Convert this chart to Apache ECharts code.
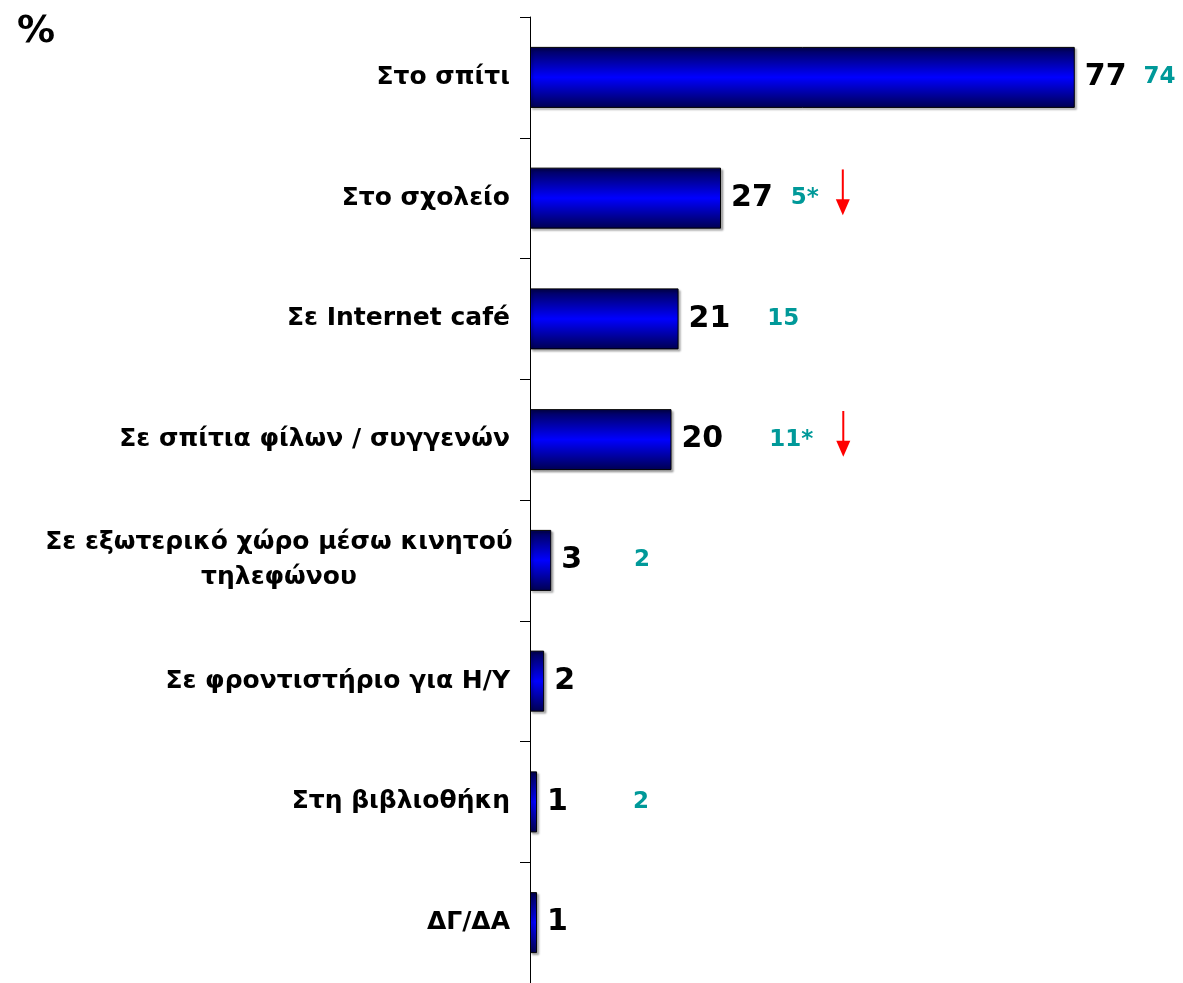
<!DOCTYPE html>
<html>
<head>
<meta charset="utf-8">
<script src="https://cdn.jsdelivr.net/npm/echarts@6/dist/echarts.min.js"></script>
<style>
  html, body { margin: 0; padding: 0; background: #fff; }
  #chart { width: 1183px; height: 983px; }
</style>
</head>
<body>
<div id="chart"></div>
<script>
  // data
  const categories = ['Στο σπίτι', 'Στο σχολείο', 'Σε Internet café', 'Σε σπίτια φίλων / συγγενών',
    'Σε εξωτερικό χώρο μέσω κινητού\nτηλεφώνου', 'Σε φροντιστήριο για Η/Υ', 'Στη βιβλιοθήκη', 'ΔΓ/ΔΑ']
  const values = [77, 27, 21, 20, 3, 2, 1, 1]
  const previous = ['74', '5*', '15', '11*', '2', '', '2', '']
  const decreased = [false, true, false, true, false, false, false, false]

  // spacing in px: current -> previous value, previous value -> arrow
  const prevGap = [17, 18, 37, 46, 52, 0, 65, 0]
  const arrowGap = [0, 16, 0, 22, 0, 0, 0, 0]

  // arrow in the top 46px, transparent below so it sits a bit higher than the numbers
  const arrowSvg = 'data:image/svg+xml;charset=utf-8,' + encodeURIComponent(
    '<svg xmlns="http://www.w3.org/2000/svg" width="16" height="58">' +
    '<line x1="8" y1="0" x2="8" y2="32" stroke="red" stroke-width="2"/>' +
    '<polygon points="1,30 15,30 8,46" fill="red"/></svg>')

  const rich = {
    v: { fontFamily: 'DejaVu Sans', fontWeight: 'bold', fontSize: 30, color: '#000' },
    p: { fontFamily: 'DejaVu Sans', fontWeight: 'bold', fontSize: 23, color: '#009999' },
    a: { width: 16, height: 58, backgroundColor: { image: arrowSvg } }
  }
  prevGap.forEach((g, i) => { rich['g' + i] = { width: g } })
  arrowGap.forEach((g, i) => { rich['s' + i] = { width: g } })

  const labelFont = { fontFamily: 'DejaVu Sans', fontWeight: 'bold', fontSize: 25, color: '#000' }

  const chart = echarts.init(document.getElementById('chart'))

  chart.setOption({
    backgroundColor: '#fff',
    animation: false,
    title: {
      text: '%',
      left: 12,
      top: 8,
      textStyle: { fontFamily: 'DejaVu Sans', fontWeight: 'bold', fontSize: 38, color: '#000' }
    },
    grid: { left: 530, top: 17, width: 566, height: 968 },
    xAxis: {
      type: 'value',
      min: 0,
      max: 80,
      show: false
    },
    yAxis: {
      type: 'category',
      inverse: true,
      data: categories,
      axisLine: { show: true, lineStyle: { color: '#000', width: 1 } },
      axisTick: { show: true, length: 10, lineStyle: { color: '#000' } },
      axisLabel: Object.assign({
        margin: 20,
        formatter: function (txt) {
          if (txt.indexOf('\n') < 0) return txt
          return txt.split('\n').map(l => '{c|' + l + '}').join('\n')
        },
        rich: {
          c: Object.assign({ width: 462, align: 'center', lineHeight: 35 }, labelFont)
        }
      }, labelFont)
    },
    series: [{
      type: 'bar',
      barWidth: 61,
      data: values,
      itemStyle: {
        borderColor: '#000',
        borderWidth: 1,
        shadowColor: 'rgba(0,0,0,0.3)',
        shadowOffsetX: 2,
        shadowOffsetY: 2,
        shadowBlur: 2,
        color: new echarts.graphic.LinearGradient(0, 0, 0, 1, [
          { offset: 0, color: '#000050' },
          { offset: 0.5, color: '#0000ff' },
          { offset: 1, color: '#000050' }
        ])
      },
      label: {
        show: true,
        position: 'right',
        distance: 10,
        formatter: function (p) {
          const i = p.dataIndex
          let s = '{v|' + p.value + '}'
          if (previous[i]) s += '{g' + i + '| }{p|' + previous[i] + '}'
          if (decreased[i]) s += '{s' + i + '| }{a| }'
          return s
        },
        rich: rich
      }
    }]
  })
</script>
</body>
</html>
